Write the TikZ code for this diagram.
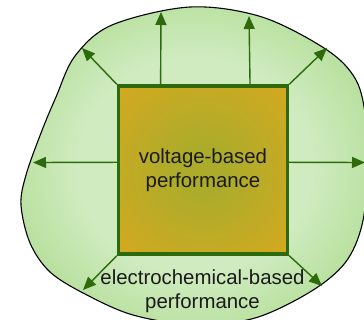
\documentclass[tikz,border=0pt]{standalone}
\usepackage{fontspec}
\setmainfont{Liberation Sans}
\usetikzlibrary{arrows.meta,calc}
\definecolor{blobin}{HTML}{CFEBBF}
\definecolor{blobout}{HTML}{8ACA5E}
\definecolor{sqin}{HTML}{ADAC2A}
\definecolor{sqout}{HTML}{DEA81E}
\definecolor{dkgreen}{HTML}{2C6A0C}
\definecolor{txt}{HTML}{1A1A1A}
\pgfdeclareradialshading{blobshade}{\pgfpoint{0bp}{0bp}}{color(0bp)=(blobin); color(17bp)=(blobin); color(46bp)=(blobout); color(80bp)=(blobout)}
\pgfdeclareradialshading{sqshade}{\pgfpoint{0bp}{0bp}}{color(0bp)=(sqin); color(8bp)=(sqin); color(42bp)=(sqout); color(80bp)=(sqout)}
\tikzset{
  outarrow/.style={draw=dkgreen, line width=1.4pt, -{Triangle[length=13pt,width=11pt]}},
  lbl/.style={font=\fontsize{20.4}{24}\selectfont, text=txt, align=center},
}
\begin{document}
\begin{tikzpicture}[x=1pt,y=-1pt]
\useasboundingbox (0,0) rectangle (364,320);
\clip (0,0) rectangle (364,320);
% blob
\path[shading=blobshade, draw=black, line width=1.1pt]
  plot[smooth cycle, tension=0.55] coordinates {
   (190,7) (262,17) (327,50) (356,80) (366,120) (368,170) (362,225) (345,263)
   (310,292) (255,318) (195,325) (133,315) (85,294) (50,272) (30,243)
   (21,205) (26,175) (41,133) (56,97) (75,56) (112,25)};
% tips
\coordinate (t1) at (82,48);
\coordinate (t2) at (161,12);
\coordinate (t3) at (249,16);
\coordinate (t4) at (327,48);
\coordinate (t5) at (33,162.5);
\coordinate (t6) at (365,162.5);
\coordinate (t7) at (83,290);
\coordinate (t8) at (322,286);
% square
\node[draw=dkgreen, line width=3.3pt, shading=sqshade, minimum width=169pt, minimum height=168pt, inner sep=0pt, lbl]
  (sq) at (203,170) {voltage-based\\performance};
\draw[outarrow] (sq.north west) -- (t1);
\draw[outarrow] ($(sq.north west)!0.254!(sq.north east)$) -- (t2);
\draw[outarrow] ($(sq.north west)!0.773!(sq.north east)$) -- (t3);
\draw[outarrow] (sq.north east) -- (t4);
\draw[outarrow] ($(sq.north west)!0.455!(sq.south west)$) -- (t5);
\draw[outarrow] ($(sq.north east)!0.455!(sq.south east)$) -- (t6);
\draw[outarrow] (sq.south west) -- (t7);
\draw[outarrow] (sq.south east) -- (t8);
\node[lbl] (ec) at (202.5,291.3) {electrochemical-based\\performance};
\end{tikzpicture}
\end{document}
